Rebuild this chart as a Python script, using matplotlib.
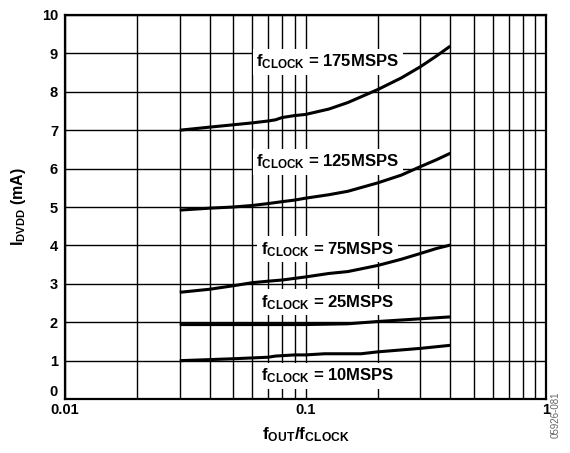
import matplotlib
matplotlib.use("Agg")
import matplotlib.pyplot as plt
from matplotlib.ticker import LogLocator, FixedLocator, NullFormatter, FixedFormatter

plt.rcParams['font.family'] = ['Liberation Sans', 'DejaVu Sans']
plt.rcParams['font.weight'] = 'bold'
plt.rcParams['mathtext.fontset'] = 'custom'
plt.rcParams['mathtext.rm'] = 'Liberation Sans:bold'
plt.rcParams['mathtext.it'] = 'Liberation Sans:bold'
plt.rcParams['mathtext.bf'] = 'Liberation Sans:bold'

# Data
x175 = [0.03, 0.04, 0.05, 0.06, 0.07, 0.075, 0.08, 0.09, 0.1, 0.125, 0.15, 0.2, 0.25, 0.3, 0.35, 0.4]
y175 = [7.0, 7.08, 7.14, 7.19, 7.24, 7.27, 7.33, 7.38, 7.41, 7.55, 7.72, 8.06, 8.36, 8.65, 8.93, 9.19]

x125 = [0.03, 0.04, 0.05, 0.06, 0.07, 0.08, 0.09, 0.1, 0.125, 0.15, 0.2, 0.25, 0.3, 0.35, 0.4]
y125 = [4.92, 4.97, 5.0, 5.04, 5.09, 5.14, 5.18, 5.23, 5.32, 5.41, 5.63, 5.83, 6.05, 6.23, 6.40]

x75 = [0.03, 0.04, 0.05, 0.06, 0.07, 0.08, 0.1, 0.125, 0.15, 0.2, 0.25, 0.3, 0.35, 0.4]
y75 = [2.78, 2.86, 2.95, 3.03, 3.07, 3.10, 3.18, 3.27, 3.32, 3.48, 3.64, 3.79, 3.92, 4.01]

x25 = [0.03, 0.05, 0.1, 0.15, 0.2, 0.3, 0.4]
y25 = [1.94, 1.94, 1.94, 1.96, 2.02, 2.09, 2.14]

x10 = [0.03, 0.05, 0.07, 0.075, 0.09, 0.1, 0.12, 0.17, 0.2, 0.3, 0.4]
y10 = [1.0, 1.05, 1.09, 1.12, 1.15, 1.15, 1.18, 1.18, 1.23, 1.32, 1.40]

labels = ['175MSPS', '125MSPS', '75MSPS', '25MSPS', '10MSPS']
label_x = [0.0625, 0.0625, 0.065, 0.065, 0.065]
label_y = [8.78, 6.18, 3.9, 2.52, 0.6]

xticks = [0.01, 0.1, 1]
xticklabels = ['0.01', '0.1', '1']
yticks = list(range(0, 11))

fig = plt.figure(figsize=(5.7, 4.53), dpi=100)
ax = fig.add_axes([0.114, 0.119, 0.844, 0.848])

for xs, ys in [(x175, y175), (x125, y125), (x75, y75), (x25, y25), (x10, y10)]:
    ax.plot(xs, ys, color='black', lw=2.2, solid_capstyle='butt', zorder=3)

ax.set_xscale('log')
ax.set_xlim(0.01, 1)
ax.set_ylim(0, 10)
ax.xaxis.set_major_locator(FixedLocator(xticks))
ax.xaxis.set_major_formatter(FixedFormatter(xticklabels))
ax.xaxis.set_minor_locator(LogLocator(base=10, subs=range(2, 10)))
ax.xaxis.set_minor_formatter(NullFormatter())
ax.set_yticks(yticks)
ax.set_yticklabels([str(v) for v in yticks])

ax.grid(True, which='major', color='black', lw=1.0, zorder=1)
ax.grid(True, which='minor', axis='x', color='black', lw=1.0, zorder=1)
ax.set_axisbelow(True)
ax.tick_params(which='both', length=0, labelsize=10.5)
ax.tick_params(axis='x', pad=3)
ax.tick_params(axis='y', pad=5)
for lab in ax.get_xticklabels() + ax.get_yticklabels():
    lab.set_fontweight('bold')
ax.get_yticklabels()[0].set_va('bottom')
for s in ax.spines.values():
    s.set_linewidth(1.6)

for lx, ly, lab in zip(label_x, label_y, labels):
    ax.text(lx, ly, r'$\mathrm{f_{CLOCK}}$ = ' + lab, fontsize=12, fontweight='bold',
            ha='left', va='center', zorder=2.5,
            bbox=dict(facecolor='white', edgecolor='none', pad=2.5))

ax.set_ylabel(r'$\mathrm{I_{DVDD}}$ (mA)', fontsize=11.5, fontweight='bold', labelpad=10)
ax.set_xlabel(r'$\mathrm{f_{OUT}/f_{CLOCK}}$', fontsize=12.5, fontweight='bold', labelpad=6)

fig.text(0.974, 0.085, '05926-081', rotation=90, fontsize=7, color='#666666',
         ha='center', va='center', fontweight='normal')

fig.savefig('out.png', dpi=100)
